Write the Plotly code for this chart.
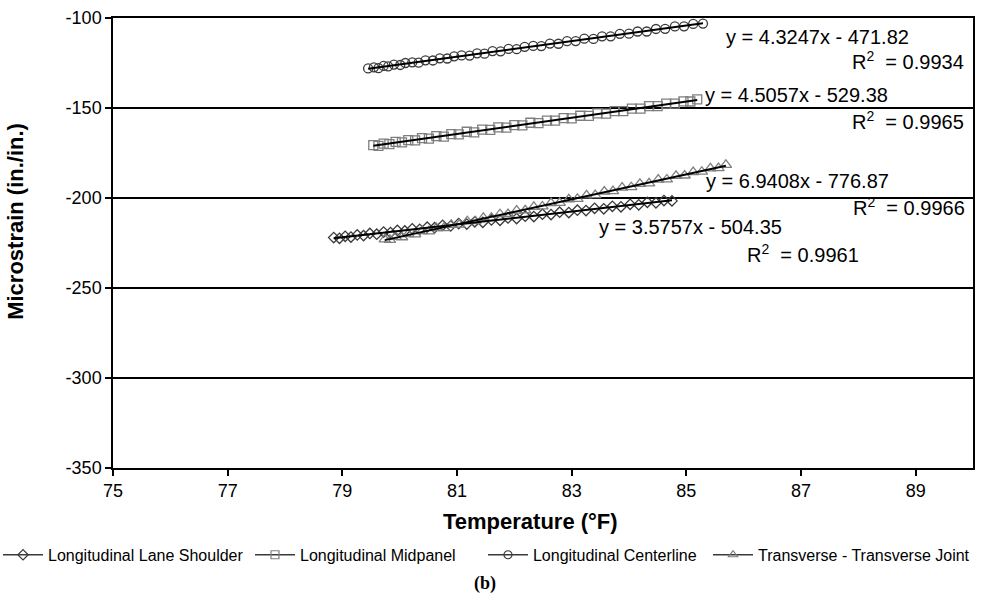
import plotly.graph_objects as go
import numpy as np

# ---------------- data ----------------
shoulder_x = [78.85, 78.95, 79.05, 79.15, 79.26, 79.37, 79.48, 79.60, 79.72, 79.84, 79.96, 80.09, 80.22, 80.35, 80.48,
              80.61, 80.75, 80.89, 81.03, 81.17, 81.31, 81.45, 81.60, 81.75, 81.89, 82.04, 82.19, 82.34, 82.49, 82.64,
              82.79, 82.95, 83.10, 83.25, 83.40, 83.56, 83.71, 83.86, 84.02, 84.17, 84.32, 84.47, 84.61, 84.75]
shoulder_y = [-222.0, -222.4, -221.3, -221.7, -220.5, -220.9, -219.7, -220.1, -218.9, -219.2, -218.0, -218.3, -217.1,
              -217.4, -216.2, -216.5, -215.2, -215.5, -214.2, -214.5, -213.2, -213.5, -212.2, -212.4, -211.1, -211.4,
              -210.1, -210.3, -209.0, -209.2, -207.9, -208.1, -206.8, -207.0, -205.7, -206.0, -204.6, -204.9, -203.5,
              -203.8, -202.4, -202.7, -201.4, -201.6]

midpanel_x = [79.54, 79.63, 79.72, 79.82, 79.93, 80.04, 80.15, 80.27, 80.39, 80.51, 80.64, 80.77, 80.90, 81.03, 81.17,
              81.30, 81.44, 81.58, 81.72, 81.86, 82.00, 82.14, 82.28, 82.42, 82.57, 82.71, 82.86, 83.00, 83.15, 83.30,
              83.45, 83.60, 83.75, 83.90, 84.05, 84.20, 84.35, 84.50, 84.65, 84.80, 84.95, 85.07, 85.19]
midpanel_y = [-170.6, -171.0, -169.8, -170.1, -168.8, -169.1, -167.8, -168.0, -166.7, -167.0, -165.6, -165.9, -164.5,
              -164.7, -163.2, -163.5, -162.0, -162.2, -160.8, -160.9, -159.5, -159.6, -158.2, -158.4, -157.0, -157.0,
              -155.6, -155.8, -154.3, -154.4, -153.0, -153.1, -151.7, -151.7, -150.3, -150.4, -149.0, -149.0, -147.6,
              -147.6, -146.3, -146.4, -145.2]

center_x = [79.45, 79.55, 79.63, 79.72, 79.80, 79.90, 80.01, 80.10, 80.22, 80.33, 80.45, 80.58, 80.70, 80.83, 80.95,
            81.08, 81.22, 81.35, 81.48, 81.62, 81.76, 81.90, 82.04, 82.18, 82.33, 82.47, 82.62, 82.77, 82.92, 83.07,
            83.22, 83.38, 83.53, 83.68, 83.84, 84.00, 84.15, 84.31, 84.47, 84.63, 84.80, 84.96, 85.12, 85.29]
center_y = [-128.0, -127.4, -127.9, -126.6, -126.9, -125.9, -126.1, -125.0, -124.6, -124.8, -123.5, -123.6, -122.4,
            -122.5, -121.3, -120.8, -120.9, -119.6, -119.8, -118.4, -118.5, -117.2, -117.3, -116.0, -115.5, -115.6,
            -114.2, -114.3, -112.9, -112.8, -111.5, -111.6, -110.2, -110.2, -108.8, -108.7, -107.5, -107.5, -106.1,
            -106.0, -104.7, -104.6, -103.3, -103.1]

transverse_x = [79.74, 79.83, 79.93, 80.04, 80.15, 80.27, 80.39, 80.51, 80.64, 80.77, 80.90, 81.04, 81.18, 81.32, 81.46,
                81.60, 81.75, 81.89, 82.04, 82.19, 82.34, 82.49, 82.64, 82.79, 82.95, 83.10, 83.26, 83.41, 83.57, 83.72,
                83.88, 84.04, 84.19, 84.35, 84.51, 84.66, 84.82, 84.97, 85.12, 85.27, 85.42, 85.56, 85.69]
transverse_y = [-223.0, -223.3, -221.6, -221.8, -220.1, -220.2, -218.4, -218.5, -216.7, -216.7, -214.9, -214.8, -212.9,
                -212.9, -211.0, -211.0, -209.0, -208.9, -207.0, -206.8, -204.9, -204.7, -202.8, -202.7, -200.7, -200.5,
                -198.5, -198.4, -196.4, -196.2, -194.2, -194.0, -192.1, -191.9, -189.8, -189.7, -187.7, -187.5, -185.6,
                -185.4, -183.5, -183.4, -181.6]

series_names = ["Longitudinal Lane Shoulder", "Longitudinal Midpanel", "Longitudinal Centerline",
                "Transverse - Transverse Joint"]

# trendline coefficients and R^2 as printed on the chart
slopes = [3.5757, 4.5057, 4.3247, 6.9408]
intercepts = [-504.35, -529.38, -471.82, -776.87]
r_squared = [0.9961, 0.9965, 0.9934, 0.9966]

x_ticks = [75, 77, 79, 81, 83, 85, 87, 89]
y_ticks = [-350, -300, -250, -200, -150, -100]
y_tick_text = ["-350", "-300", "-250", "-200", "-150", "-100"]

# ---------------- figure ----------------
xs = [shoulder_x, midpanel_x, center_x, transverse_x]
ys = [shoulder_y, midpanel_y, center_y, transverse_y]
symbols = ["diamond-open", "square-open", "circle-open", "triangle-up-open"]
mcolors = ["#3a3a3a", "#7f7f7f", "#3a3a3a", "#7f7f7f"]
msizes = [8, 9, 9, 10]
legend_ids = ["legend", "legend2", "legend3", "legend4"]
legend_x = [-0.1337, 0.1593, 0.4302, 0.6919]

fig = go.Figure()
for i in range(4):
    fig.add_trace(go.Scatter(
        x=xs[i], y=ys[i], mode="markers", showlegend=False,
        marker=dict(symbol=symbols[i], size=msizes[i], color=mcolors[i], line=dict(width=1.3, color=mcolors[i]))))

for i in range(4):
    lx = np.array([min(xs[i]), max(xs[i])])
    fig.add_trace(go.Scatter(x=lx, y=slopes[i] * lx + intercepts[i], mode="lines", showlegend=False,
                             line=dict(color="black", width=2)))

for i in range(4):
    fig.add_trace(go.Scatter(
        x=[None], y=[None], mode="lines+markers", name=series_names[i], legend=legend_ids[i],
        line=dict(color="#3a3a3a", width=1.3),
        marker=dict(symbol=symbols[i], size=8, color=mcolors[i], line=dict(width=1.2, color=mcolors[i]))))

# equation labels (positions in data units)
eq_pos = [(83.44, -216.1, 86.02, -230.6),
          (85.29, -142.8, 87.86, -156.7),
          (85.66, -110.6, 87.86, -123.8),
          (85.31, -190.6, 87.87, -204.6)]
for i in range(4):
    ex, ey, rx, ry = eq_pos[i]
    sign = "-" if intercepts[i] < 0 else "+"
    fig.add_annotation(x=ex, y=ey, xref="x", yref="y", xanchor="left", yanchor="middle", showarrow=False,
                       text=f"y = {slopes[i]:.4f}x {sign} {abs(intercepts[i]):.2f}",
                       font=dict(family="Liberation Sans, Arial", size=20, color="black"))
    fig.add_annotation(x=rx, y=ry, xref="x", yref="y", xanchor="left", yanchor="middle", showarrow=False,
                       text=f"R<sup>2</sup>&nbsp; = {r_squared[i]:.4f}",
                       font=dict(family="Liberation Sans, Arial", size=20, color="black"))

fig.add_annotation(x=0, xshift=-97, y=0.547, xref="paper", yref="paper", showarrow=False, textangle=-90,
                   xanchor="center", yanchor="middle", text="<b>Microstrain (in./in.)</b>",
                   font=dict(family="Liberation Sans, Arial", size=22, color="black"))
fig.add_annotation(x=0.486, y=-0.118, xref="paper", yref="paper", showarrow=False,
                   xanchor="center", yanchor="middle", text="<b>Temperature (°F)</b>",
                   font=dict(family="Liberation Sans, Arial", size=22, color="black"))
fig.add_annotation(x=0.4326, y=-0.2556, xref="paper", yref="paper", showarrow=False,
                   xanchor="center", yanchor="middle", text="<b>(b)</b>",
                   font=dict(family="Liberation Serif, Times New Roman", size=18, color="black"))

legend_style = dict(orientation="h", xanchor="left", y=-0.193, yanchor="middle",
                    font=dict(size=16, color="black"), itemwidth=40, bgcolor="rgba(0,0,0,0)")
layout_legends = {}
for i in range(4):
    layout_legends[legend_ids[i]] = dict(legend_style, x=legend_x[i])

fig.update_layout(
    width=984, height=596,
    margin=dict(l=113, r=11, t=18, b=128, autoexpand=False),
    paper_bgcolor="white", plot_bgcolor="white",
    font=dict(family="Liberation Sans, Arial", color="black"),
    xaxis=dict(range=[75, 90], tickvals=x_ticks, ticks="outside", ticklen=6, tickwidth=1.5, tickcolor="black",
               showgrid=False, zeroline=False, showline=True, linecolor="black", linewidth=1.5, mirror=True,
               tickfont=dict(size=18)),
    yaxis=dict(range=[-350, -100], tickvals=y_ticks, ticktext=y_tick_text, ticks="outside", ticklen=6,
               tickwidth=1.5, tickcolor="black",
               showgrid=True, gridcolor="black", gridwidth=1.5, zeroline=False, showline=True, linecolor="black",
               linewidth=1.5, mirror=True, tickfont=dict(size=18)),
    **layout_legends,
)

fig.write_html("out.html")
